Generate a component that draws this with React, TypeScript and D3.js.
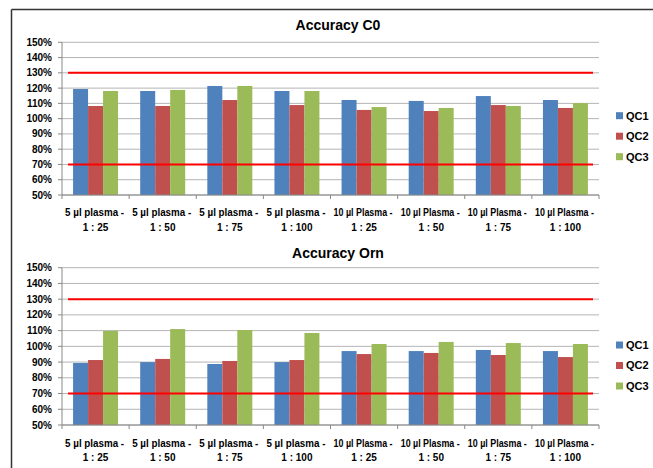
import React from "react";
import * as d3 from "d3";

const categories = [
  ["5 µl plasma -", "1 : 25"],
  ["5 µl plasma -", "1 : 50"],
  ["5 µl plasma -", "1 : 75"],
  ["5 µl plasma -", "1 : 100"],
  ["10 µl Plasma -", "1 : 25"],
  ["10 µl Plasma -", "1 : 50"],
  ["10 µl Plasma -", "1 : 75"],
  ["10 µl Plasma -", "1 : 100"],
];
const seriesNames = ["QC1", "QC2", "QC3"];
const seriesColors = ["#4F81BD", "#C0504D", "#9BBB59"];
const yTicks = [50, 60, 70, 80, 90, 100, 110, 120, 130, 140, 150];
const limitLines = [130, 70];

const c0QC1 = [119.4, 118.1, 121.4, 118.1, 112.2, 111.6, 114.8, 112.2];
const c0QC2 = [108.3, 108.3, 112.2, 108.9, 105.7, 105.0, 108.9, 107.0];
const c0QC3 = [118.1, 118.8, 121.4, 118.1, 107.6, 107.0, 108.3, 110.2];

const ornQC1 = [89.4, 90.0, 88.8, 90.0, 97.0, 97.0, 97.7, 97.0];
const ornQC2 = [91.3, 92.0, 90.7, 91.3, 95.1, 95.8, 94.5, 93.2];
const ornQC3 = [109.8, 111.0, 110.4, 108.5, 101.5, 102.8, 102.1, 101.5];

const FONT = "'Liberation Sans', Arial, sans-serif";

type PanelProps = {
  title: string;
  series: number[][];
  top: number;
  bottom: number;
  titleY: number;
  legendY: number;
  label1Y: number;
  label2Y: number;
};

const left = 62;
const right = 599;

function Panel({ title, series, top, bottom, titleY, legendY, label1Y, label2Y }: PanelProps) {
  const y = d3.scaleLinear().domain([50, 150]).range([bottom, top]);
  const x0 = d3
    .scaleBand<number>()
    .domain(categories.map((_, i) => i))
    .range([left, right])
    .paddingInner(0.33)
    .paddingOuter(0.165);
  const x1 = d3
    .scaleBand<number>()
    .domain(seriesNames.map((_, i) => i))
    .range([0, x0.bandwidth()]);
  const step = (right - left) / categories.length;
  return (
    <g>
      <text
        x={338}
        y={titleY}
        textAnchor="middle"
        fontFamily={FONT}
        fontWeight="bold"
        fontSize={14}
        fill="#000"
      >
        {title}
      </text>
      {yTicks.map((t) => (
        <g key={t}>
          <line x1={left} x2={right} y1={y(t)} y2={y(t)} stroke="#B4B4B4" strokeWidth={1} />
          <line x1={left - 4} x2={left} y1={y(t)} y2={y(t)} stroke="#888" strokeWidth={1} />
          <text
            x={52}
            y={y(t)}
            dy="0.35em"
            textAnchor="end"
            fontFamily={FONT}
            fontWeight="bold"
            fontSize={10}
            fill="#000"
          >
            {t}%
          </text>
        </g>
      ))}
      {series.map((vals, s) =>
        vals.map((v, i) => (
          <rect
            key={`${s}-${i}`}
            x={(x0(i) as number) + (x1(s) as number)}
            y={y(v)}
            width={x1.bandwidth()}
            height={y(50) - y(v)}
            fill={seriesColors[s]}
          />
        ))
      )}
      {limitLines.map((l) => (
        <line key={l} x1={68} x2={593} y1={y(l)} y2={y(l)} stroke="#FF0000" strokeWidth={2} />
      ))}
      <line x1={left} x2={left} y1={top} y2={bottom} stroke="#888" strokeWidth={1} />
      <line x1={left} x2={right} y1={bottom} y2={bottom} stroke="#888" strokeWidth={1} />
      {d3.range(categories.length + 1).map((i) => (
        <line
          key={i}
          x1={left + i * step}
          x2={left + i * step}
          y1={bottom}
          y2={bottom + 4}
          stroke="#888"
          strokeWidth={1}
        />
      ))}
      {categories.map((c, i) => {
        const cx = (x0(i) as number) + x0.bandwidth() / 2;
        return (
          <g key={i} fontFamily={FONT} fontWeight="bold" fontSize={10} fill="#000">
            <text x={cx - 1} y={label1Y} textAnchor="middle" textLength={59} lengthAdjust="spacingAndGlyphs">
              {c[0]}
            </text>
            <text x={cx} y={label2Y} textAnchor="middle">
              {c[1]}
            </text>
          </g>
        );
      })}
      {seriesNames.map((n, s) => (
        <g key={n}>
          <rect x={616} y={legendY + s * 20.5 - 3.5} width={7} height={7} fill={seriesColors[s]} />
          <text
            x={626}
            y={legendY + s * 20.5}
            dy="0.36em"
            fontFamily={FONT}
            fontWeight="bold"
            fontSize={11}
            fill="#000"
          >
            {n}
          </text>
        </g>
      ))}
    </g>
  );
}

export default function App() {
  return (
    <svg
      width={653}
      height={468}
      style={{ position: "absolute", left: 0, top: 0, background: "#fff" }}
    >
      <rect x={0} y={0} width={653} height={468} fill="#fff" />
      <line x1={11.5} x2={653} y1={9.5} y2={9.5} stroke="#333" strokeWidth={1.5} />
      <line x1={11.5} x2={11.5} y1={9.5} y2={468} stroke="#333" strokeWidth={1.5} />
      <Panel
        title="Accuracy C0"
        series={[c0QC1, c0QC2, c0QC3]}
        top={42.3}
        bottom={195}
        titleY={30}
        legendY={115.7}
        label1Y={216}
        label2Y={231}
      />
      <Panel
        title="Accuracy Orn"
        series={[ornQC1, ornQC2, ornQC3]}
        top={267.7}
        bottom={425}
        titleY={257.5}
        legendY={345}
        label1Y={447}
        label2Y={461}
      />
    </svg>
  );
}
